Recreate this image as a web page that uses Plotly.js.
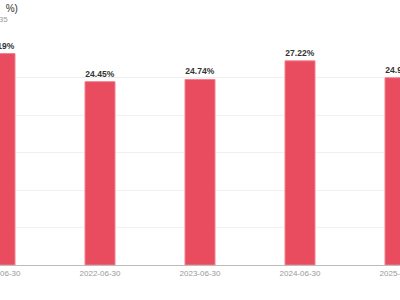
<!DOCTYPE html>
<html>
<head>
<meta charset="utf-8">
<script src="https://cdn.plot.ly/plotly-3.0.1.min.js"></script>
<style>
html,body{margin:0;padding:0;width:400px;height:300px;overflow:hidden;background:#fff;}
#chart{position:absolute;left:-110px;top:0;width:620px;height:300px;}
</style>
</head>
<body>
<div id="chart"></div>
<script>
const categories = ["2021-06-30", "2022-06-30", "2023-06-30", "2024-06-30", "2025-06-30"];
const values = [28.19, 24.45, 24.74, 27.22, 24.97];
const titleText = "销售毛利率(单位:\u00a0\u00a0%)";
const subtitleText = "代码：600235";

const trace = {
  type: "bar",
  x: categories,
  y: values,
  width: 0.3,
  marker: {color: "#e84c5e", line: {color: "#f3808d", width: 1}},
  texttemplate: "%{y:.2f}%",
  textposition: "outside",
  cliponaxis: false,
  textfont: {family: "Liberation Sans, Arial, sans-serif", size: 8.5, color: "#333", weight: "bold"},
  hoverinfo: "none"
};

const layout = {
  width: 620,
  height: 300,
  margin: {l: 60, r: 60, t: 40, b: 35},
  paper_bgcolor: "#fff",
  plot_bgcolor: "#fff",
  showlegend: false,
  font: {family: "Liberation Sans, Arial, sans-serif", size: 8, color: "#999"},
  xaxis: {
    type: "category",
    range: [-0.5, 4.5],
    showgrid: false,
    showline: true,
    linecolor: "#bbbbbb",
    linewidth: 1,
    ticks: "",
    tickfont: {size: 8, color: "#999"},
    fixedrange: true
  },
  yaxis: {
    range: [0, 30],
    dtick: 5,
    showgrid: true,
    gridcolor: "#f0f0f0",
    gridwidth: 1,
    zeroline: false,
    showticklabels: false,
    fixedrange: true
  },
  annotations: [
    {text: titleText, xref: "paper", yref: "paper", x: 0.139, y: 1.142, xanchor: "right", yanchor: "middle", showarrow: false,
     font: {size: 10, color: "#333", family: "Liberation Sans, Arial, sans-serif"}},
    {text: subtitleText, xref: "paper", yref: "paper", x: 0.119, y: 1.093, xanchor: "right", yanchor: "middle", showarrow: false,
     font: {size: 8, color: "#999", family: "Liberation Sans, Arial, sans-serif"}}
  ]
};

Plotly.newPlot("chart", [trace], layout, {displayModeBar: false, staticPlot: true});
</script>
</body>
</html>
